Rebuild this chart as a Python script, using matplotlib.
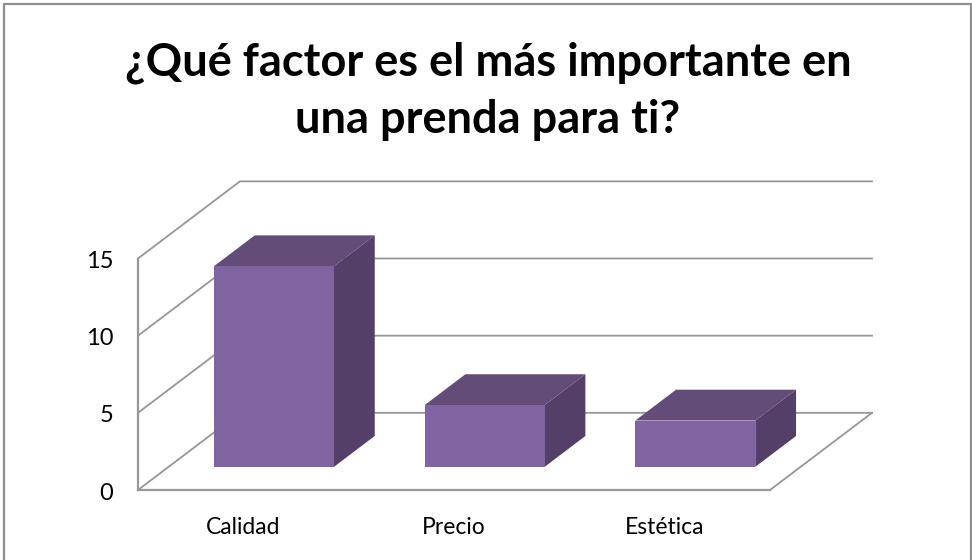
import matplotlib
matplotlib.use("Agg")
import matplotlib.pyplot as plt
from matplotlib.patches import Polygon

categories = ["Calidad", "Precio", "Estética"]
values = [13, 4, 3]
y_ticks = [0, 5, 10, 15]
title = "¿Qué factor es el más importante en\nuna prenda para ti?"

W, H = 972, 560
GRID = "#979797"
FRONT = "#8064A2"
TOP = "#634C78"
SIDE = "#533F68"

# depth of the fake 3d box, in data units
DEPTH_X = 102 / (632 / 3)
DEPTH_Y = 5
BAR_W = 120 / (632 / 3)
BAR_D0, BAR_D1 = 0.30, 0.70


def depth(x, y, d):
    return x + DEPTH_X * d, y + DEPTH_Y * d


plt.rcParams["font.family"] = ["Lato", "DejaVu Sans"]
fig = plt.figure(figsize=(W / 100, H / 100), dpi=100)

# outer chart border (no bottom edge, the picture cuts it off)
fig.add_artist(plt.Line2D([3.5 / W, 3.5 / W, 970.5 / W, 970.5 / W],
                          [0, 1 - 4 / H, 1 - 4 / H, 0],
                          color="#8E8E8E", lw=1.6))

ax = fig.add_axes([138 / W, 1 - 490 / H, 632 / W, 231.5 / H])
ax.set_xlim(-0.5, len(categories) - 0.5)
ax.set_ylim(0, 15)
ax.axis("off")

x0, x1 = ax.get_xlim()

# walls and floor
for t in y_ticks:
    bx0, by0 = depth(x0, t, 1)
    bx1, by1 = depth(x1, t, 1)
    ax.plot([x0, bx0, bx1], [t, by0, by1], color=GRID, lw=1.3, clip_on=False,
            solid_joinstyle="miter", zorder=1)
    ax.text(x0 - 0.118, t - 0.2, str(t), ha="right", va="center", fontsize=17,
            color="black", clip_on=False)
ax.plot([x0, x0], [0, 15], color=GRID, lw=1.6, clip_on=False, zorder=1)
ax.plot([x0, x1], [0, 0], color=GRID, lw=1.6, clip_on=False, zorder=1)
bx, by = depth(x1, 0, 1)
ax.plot([x1, bx], [0, by], color=GRID, lw=1.3, clip_on=False, zorder=1)

# bars
for i, (name, v) in enumerate(zip(categories, values)):
    left = i - BAR_W / 2
    right = i + BAR_W / 2
    fl, yb = depth(left, 0, BAR_D0)
    fr, _ = depth(right, 0, BAR_D0)
    _, yt = depth(left, v, BAR_D0)
    bl, ybb = depth(left, 0, BAR_D1)
    br, _ = depth(right, 0, BAR_D1)
    _, ytb = depth(left, v, BAR_D1)
    ax.add_patch(Polygon([(fr, yb), (br, ybb), (br, ytb), (fr, yt)],
                         fc=SIDE, ec="none", clip_on=False, zorder=3))
    ax.add_patch(Polygon([(fl, yt), (fr, yt), (br, ytb), (bl, ytb)],
                         fc=TOP, ec="none", clip_on=False, zorder=3))
    ax.add_patch(Polygon([(fl, yb), (fr, yb), (fr, yt), (fl, yt)],
                         fc=FRONT, ec="none", clip_on=False, zorder=4))
    ax.text(i, -2.4, name, ha="center", va="center", fontsize=16.5,
            color="black", clip_on=False)

fig.text(488 / W, 1 - 91 / H, title, ha="center", va="center", fontsize=32.5,
         fontweight="bold", color="black", linespacing=1.45)

fig.savefig("out.png", dpi=100, facecolor="white")
